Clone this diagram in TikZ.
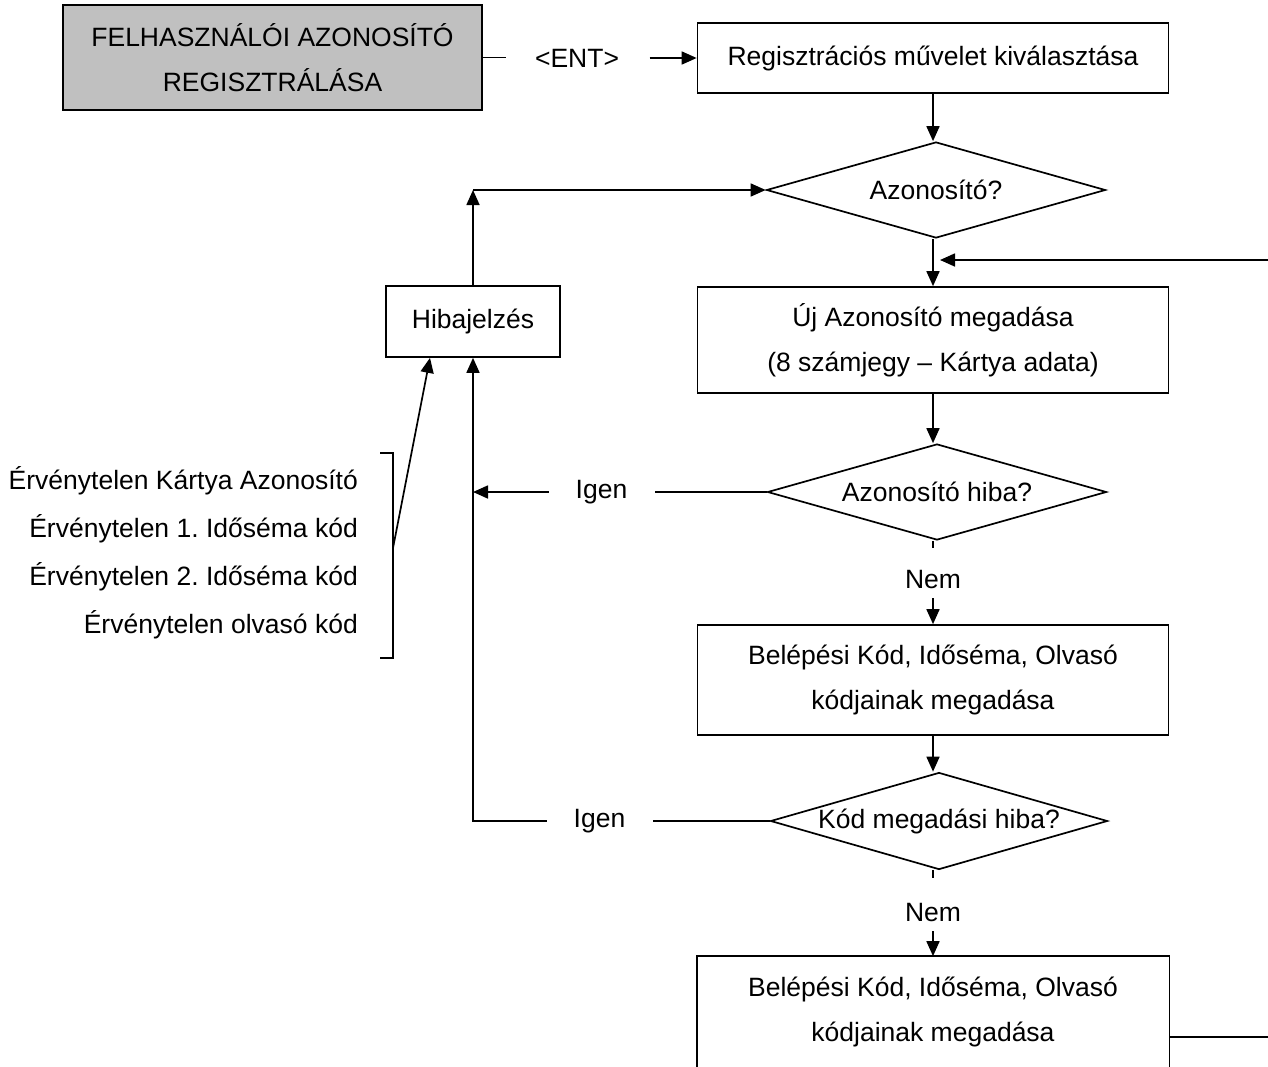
\documentclass[tikz,border=0pt]{standalone}
\usepackage{fontspec}
\setmainfont{Liberation Sans}
\frenchspacing
\usetikzlibrary{shapes.geometric,arrows.meta,positioning,calc}
\definecolor{titlegray}{HTML}{C0C0C0}
\tikzset{
  titlebox/.style={rectangle, draw=black, fill=titlegray, line width=1.7pt, minimum width=419pt, minimum height=105pt, align=center, inner sep=0pt},
  process/.style={rectangle, draw=black, fill=white, line width=1.7pt, minimum width=471pt, align=center, inner sep=0pt},
  decision/.style={diamond, aspect=3.5, draw=black, fill=white, line width=1.7pt, minimum width=339pt, minimum height=96pt, inner sep=0pt, align=center},
  flow/.style={line width=1.7pt, -{Triangle[length=15pt,width=13pt]}},
  conn/.style={line width=1.7pt},
  lbl/.style={inner sep=0pt, align=center},
}

\begin{document}
\begin{tikzpicture}[x=1pt, y=-1pt, font=\fontsize{26.5}{45}\selectfont]
  \useasboundingbox (0,0) rectangle (1268,1066);
  % main column
  \node[titlebox] (title) at (272.5,57.5) {FELHASZNÁLÓI AZONOSÍTÓ\\REGISZTRÁLÁSA};
  \node[lbl, minimum width=145pt] (ent) at (577,58) {<ENT>};
  \node[process, minimum height=70pt] (reg) at (933,58) {Regisztrációs művelet kiválasztása};
  \node[decision] (az) at (936,190) {Azonosító?};
  \node[process, minimum height=106pt] (uj) at (933,340) {Új Azonosító megadása\\(8 számjegy – Kártya adata)};
  \node[decision] (azh) at (937,492) {Azonosító hiba?};
  \node[lbl] (nem1) at (933,580) {Nem};
  \node[process, minimum height=110pt] (bel) at (933,680) {Belépési Kód, Id\H{o}séma, Olvasó\\kódjainak megadása};
  \node[decision, minimum width=337pt, minimum height=97pt] (kod) at (939,821) {Kód megadási hiba?};
  \node[lbl] (nem2) at (933,912) {Nem};
  \node[process, draw=none, fill=none, minimum height=110pt] (bel2) at (933,1012) {Belépési Kód, Id\H{o}séma, Olvasó\\kódjainak megadása};
  % left side
  \node[process, minimum width=174pt, minimum height=71pt] (hiba) at (473,321.5) {Hibajelzés};
  \node[lbl] (igen1) at (601.5,492) {Igen};
  \node[lbl] (igen2) at (599.5,821) {Igen};
  \node[inner sep=0pt, align=right, anchor=east, font=\fontsize{26.5}{48}\selectfont] (err) at (358,553)
    {Érvénytelen Kártya Azonosító\\Érvénytelen 1. Id\H{o}séma kód\\Érvénytelen 2. Id\H{o}séma kód\\Érvénytelen olvasó kód};
  \coordinate (loop) at (hiba.north |- az.west);
  \coordinate (brc) at (393,548);
  \coordinate (inR) at (1268,260);
  \coordinate (outR) at (1268,1037);

  \draw[conn] (title.east) -- ++(23,0);
  \draw[flow] (ent.east) -- (reg.west);
  \draw[flow] (reg) -- (reg |- az.north);
  \draw[flow] (uj.north |- az.south) -- (uj.north);
  \draw[flow] (inR) -- ([xshift=7pt]inR -| uj.north);
  \draw[flow] (uj) -- (uj |- azh.north);
  \draw[conn] (nem1 |- azh.south) -- ++(0,7);
  \draw[flow] ([yshift=-18pt]nem1.center) -- (bel.north);
  \draw[flow] (bel) -- (bel |- kod.north);
  \draw[conn] (nem2 |- kod.south) -- ++(0,8);
  \draw[flow] ([yshift=-19pt]nem2.center) -- (bel2.north);
  \draw[conn] (bel2.south west) |- (bel2.north east) -- (bel2.south east);
  \draw[conn] (outR -| bel2.east) -- (outR);

  \draw[conn] (azh.west) -- ([xshift=53pt]igen1.center);
  \draw[flow] ([xshift=-53pt]igen1.center) -- (igen1 -| hiba.south);
  \draw[conn] (kod.west) -- ([xshift=53pt]igen2.center);
  \draw[flow] ([xshift=-53pt]igen2.center) -| (hiba.south);
  \draw[flow] (hiba.north) -- (loop);
  \draw[flow] (loop) -- (az.west);

  \draw[conn] (380,453) -| (brc) |- (380,658);
  \draw[flow] (brc) -- ([xshift=-43pt]hiba.south);
\end{tikzpicture}
\end{document}
